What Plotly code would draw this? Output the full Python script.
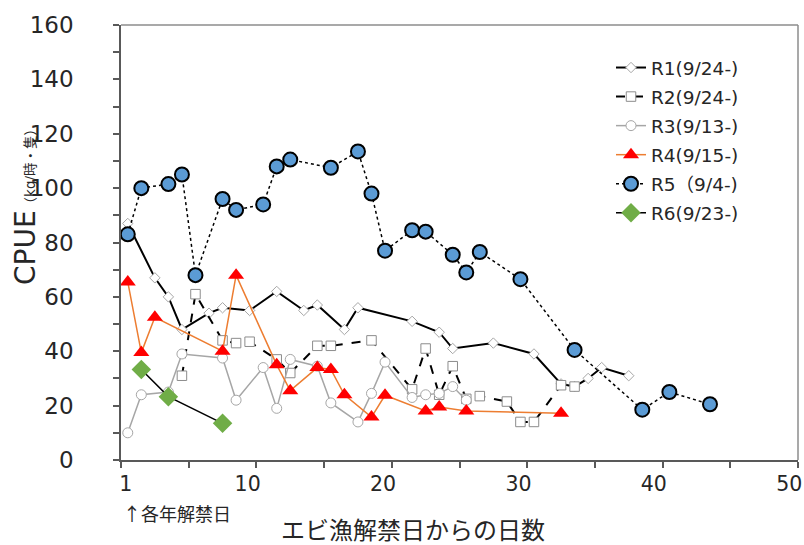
import plotly.graph_objects as go

# ---- data ----
r1_days = [1, 3, 4, 5, 7, 8, 10, 12, 14, 15, 17, 18, 22, 24, 25, 28, 31, 33, 34, 35, 36, 38]
r1_vals = [87, 67, 60, 48, 54, 56, 55, 62, 55, 57, 48, 56, 51, 47, 41, 43, 39, 28, 27, 30, 34, 31]

r2_days = [5, 6, 8, 9, 10, 12, 13, 15, 16, 19, 22, 23, 24, 25, 26, 27, 29, 30, 31, 33, 34]
r2_vals = [31, 61, 44, 43, 43.5, 37, 32, 42, 42, 44, 26, 41, 24, 34.5, 22.5, 23.5, 21.5, 14, 14, 27.5, 27]

r3_days = [1, 2, 4, 5, 8, 9, 11, 12, 13, 15, 16, 18, 19, 20, 22, 23, 24, 25, 26]
r3_vals = [10, 24, 25, 39, 37.5, 22, 34, 19, 37, 34.5, 21, 14, 24.5, 36, 23, 24, 24.5, 27, 22]

r4_days = [1, 2, 3, 8, 9, 12, 13, 15, 16, 17, 19, 20, 23, 24, 26, 33]
r4_vals = [65.5, 39.5, 52.5, 40, 68, 35, 25.5, 34, 33.3, 24, 15.8, 23.8, 18, 19.5, 18, 17.2]

r5_days = [1, 2, 4, 5, 6, 8, 9, 11, 12, 13, 16, 18, 19, 20, 22, 23, 25, 26, 27, 30, 34, 39, 41, 44]
r5_vals = [83, 100, 101.5, 105, 68, 96, 92, 94, 108, 110.5, 107.5, 113.5, 98, 77, 84.5, 84, 75.5, 69, 76.5, 66.5, 40.5, 18.5, 25, 20.5]

r6_days = [2, 4, 8]
r6_vals = [33.3, 23.3, 13.5]

names = ["R1(9/24-)", "R2(9/24-)", "R3(9/13-)", "R4(9/15-)", "R5（9/4-)", "R6(9/23-)"]

x_tickvals = [1, 10, 20, 30, 40, 50]
y_tickvals = [0, 20, 40, 60, 80, 100, 120, 140, 160]

FONT = "DejaVu Sans, Verdana, Noto Sans CJK JP, sans-serif"
JFONT = "Noto Sans CJK JP, sans-serif"

# the page body margin is removed by the post script, so figure == window
W, H = 804, 545
PL, PR, PT, PB = 121, 798, 25, 460
PW, PH = PR - PL, PB - PT


def px_x(xw):
    return (xw - PL) / PW


def px_y(yw):
    return (PB - yw) / PH


fig = go.Figure()

fig.add_trace(go.Scatter(
    x=r1_days, y=r1_vals, name=names[0], mode="lines+markers", legendgroup="g1",
    line=dict(color="black", width=2),
    marker=dict(symbol="diamond", size=8, color="white", line=dict(color="#a6a6a6", width=1)),
))
fig.add_trace(go.Scatter(
    x=r2_days, y=r2_vals, name=names[1], mode="lines+markers", legendgroup="g2",
    line=dict(color="black", width=2, dash="dash"),
    marker=dict(symbol="square", size=9.5, color="white", line=dict(color="#8c8c8c", width=1)),
))
fig.add_trace(go.Scatter(
    x=r3_days, y=r3_vals, name=names[2], mode="lines+markers", legendgroup="g3",
    line=dict(color="#a6a6a6", width=1.5),
    marker=dict(symbol="circle", size=10, color="white", line=dict(color="#a6a6a6", width=1)),
))
fig.add_trace(go.Scatter(
    x=r4_days, y=r4_vals, name=names[3], mode="lines+markers", legendgroup="g4",
    line=dict(color="#ED7D31", width=1.5),
    marker=dict(symbol="triangle-up", size=14, color="#FF0000", line=dict(color="#FF0000", width=0)),
))
fig.add_trace(go.Scatter(
    x=r5_days, y=r5_vals, name=names[4], mode="lines+markers", legendgroup="g5",
    line=dict(color="black", width=1.5, dash="dot"),
    marker=dict(symbol="circle", size=14, color="#5B9BD5", line=dict(color="black", width=2)),
))
fig.add_trace(go.Scatter(
    x=r6_days, y=r6_vals, name=names[5], mode="lines+markers", legendgroup="g6",
    line=dict(color="black", width=1.5),
    marker=dict(symbol="diamond", size=15, color="#70AD47", line=dict(color="#70AD47", width=0)),
))

fig.update_layout(
    width=W, height=H,
    margin=dict(l=PL, r=W - PR, t=PT, b=H - PB, autoexpand=False),
    paper_bgcolor="white", plot_bgcolor="white",
    font=dict(family=FONT, color="#262626"),
    showlegend=True,
    legend=dict(
        x=px_x(611), y=px_y(49), xanchor="left", yanchor="top",
        bgcolor="rgba(0,0,0,0)", font=dict(size=18.5, family=FONT, color="#262626"),
        itemwidth=30, tracegroupgap=2,
    ),
    xaxis=dict(
        range=[0.5, 50.5], tickvals=x_tickvals, ticktext=[str(v) for v in x_tickvals],
        ticks="outside", ticklen=5, tickcolor="rgba(0,0,0,0)",
        tickfont=dict(size=20.5, family=FONT, color="#262626"),
        ticklabeloverflow="allow", ticklabelshift=-2,
        showline=True, linecolor="#595959", linewidth=1.5,
        showgrid=False, zeroline=False,
        minor=dict(tick0=0.5, dtick=5, ticks="outside", ticklen=6, tickcolor="#595959", tickwidth=1.5, showgrid=False),
    ),
    yaxis=dict(
        range=[0, 160], tickvals=y_tickvals,
        ticks="outside", ticklen=6, tickcolor="#595959", tickwidth=1.5,
        tickfont=dict(size=23, family=FONT, color="#262626"),
        ticklabelstandoff=35,
        showline=True, linecolor="#595959", linewidth=1.5,
        showgrid=False, zeroline=False,
        minor=dict(dtick=10, ticks="outside", ticklen=6, tickcolor="#595959", tickwidth=1.5, showgrid=False),
    ),
    shapes=[
        dict(type="line", xref="paper", yref="paper", x0=0, y0=1, x1=1, y1=1,
             line=dict(color="#8c8c8c", width=1.5), layer="above"),
        dict(type="line", xref="paper", yref="paper", x0=1, y0=0, x1=1, y1=1,
             line=dict(color="#8c8c8c", width=1.5), layer="above"),
    ],
    annotations=[
        dict(text="CPUE<span style='font-size:13.5px'>（kg/時・隻）</span>",
             xref="paper", yref="paper", x=px_x(25), y=px_y(204),
             xanchor="center", yanchor="middle", textangle=-90, showarrow=False,
             font=dict(size=28, family=FONT, color="#262626")),
        dict(text="エビ漁解禁日からの日数", xref="paper", yref="paper",
             x=px_x(413), y=px_y(528), xanchor="center", yanchor="middle",
             showarrow=False, font=dict(size=24, family=JFONT, color="#262626")),
        dict(text="↑各年解禁日", xref="paper", yref="paper",
             x=px_x(121), y=px_y(513), xanchor="left", yanchor="middle",
             showarrow=False, font=dict(size=18, family=JFONT, color="#262626")),
    ],
)

fig.write_html(
    "out.html",
    config={"displayModeBar": False},
    post_script="document.body.style.margin='0';document.body.style.overflow='hidden';",
)
